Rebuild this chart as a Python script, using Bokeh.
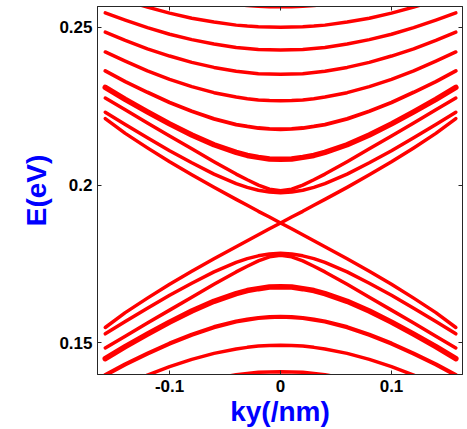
from bokeh.plotting import figure
from bokeh.models import Range1d, LinearAxis, FixedTicker
from bokeh.embed import file_html
from bokeh.resources import INLINE

# ---- data ----
ky = [-0.158, -0.14, -0.12, -0.10, -0.08, -0.06, -0.04, -0.03, -0.02, -0.01, 0.0,
      0.01, 0.02, 0.03, 0.04, 0.06, 0.08, 0.10, 0.12, 0.14, 0.158]

dirac_a = [0.2211, 0.2164, 0.2118, 0.2074, 0.2033, 0.1993, 0.1955, 0.1936, 0.1917, 0.1899, 0.1880,
           0.1862, 0.1843, 0.1824, 0.1805, 0.1767, 0.1727, 0.1686, 0.1642, 0.1596, 0.1549]
dirac_b = [0.1549, 0.1596, 0.1642, 0.1686, 0.1727, 0.1767, 0.1805, 0.1824, 0.1843, 0.1862, 0.1880,
           0.1899, 0.1917, 0.1936, 0.1955, 0.1993, 0.2033, 0.2074, 0.2118, 0.2164, 0.2211]

c1a = [0.2276, 0.2239, 0.2197, 0.2156, 0.2115, 0.2074, 0.2035, 0.2017, 0.2000, 0.1987, 0.1982,
       0.1987, 0.2000, 0.2017, 0.2035, 0.2074, 0.2115, 0.2156, 0.2197, 0.2239, 0.2276]
c1b = [0.2231, 0.2192, 0.2150, 0.2109, 0.2071, 0.2035, 0.2005, 0.1993, 0.1984, 0.1978, 0.1976,
       0.1978, 0.1984, 0.1993, 0.2005, 0.2035, 0.2071, 0.2109, 0.2150, 0.2192, 0.2231]
c2 = [0.2310, 0.2272, 0.2232, 0.2194, 0.2159, 0.2128, 0.2104, 0.2094, 0.2088, 0.2083, 0.2082,
      0.2083, 0.2088, 0.2094, 0.2104, 0.2128, 0.2159, 0.2194, 0.2232, 0.2272, 0.2310]
c3 = [0.2362, 0.2328, 0.2294, 0.2262, 0.2234, 0.2210, 0.2192, 0.2186, 0.2181, 0.2178, 0.2177,
      0.2178, 0.2181, 0.2186, 0.2192, 0.2210, 0.2234, 0.2262, 0.2294, 0.2328, 0.2362]
c4 = [0.2422, 0.2393, 0.2362, 0.2335, 0.2312, 0.2293, 0.2279, 0.2274, 0.2270, 0.2268, 0.2267,
      0.2268, 0.2270, 0.2274, 0.2279, 0.2293, 0.2312, 0.2335, 0.2362, 0.2393, 0.2422]
c5 = [0.2485, 0.2459, 0.2432, 0.2409, 0.2389, 0.2373, 0.2361, 0.2357, 0.2353, 0.2352, 0.2351,
      0.2352, 0.2353, 0.2357, 0.2361, 0.2373, 0.2389, 0.2409, 0.2432, 0.2459, 0.2485]
c6 = [0.2546, 0.2523, 0.2499, 0.2478, 0.2461, 0.2447, 0.2436, 0.2433, 0.2430, 0.2429, 0.2428,
      0.2429, 0.2430, 0.2433, 0.2436, 0.2447, 0.2461, 0.2478, 0.2499, 0.2523, 0.2546]
c7 = [0.2607, 0.2585, 0.2564, 0.2545, 0.2529, 0.2517, 0.2507, 0.2504, 0.2502, 0.2501, 0.2500,
      0.2501, 0.2502, 0.2504, 0.2507, 0.2517, 0.2529, 0.2545, 0.2564, 0.2585, 0.2607]
c8 = [0.2663, 0.2643, 0.2623, 0.2606, 0.2591, 0.2580, 0.2572, 0.2569, 0.2567, 0.2565, 0.2565,
      0.2565, 0.2567, 0.2569, 0.2572, 0.2580, 0.2591, 0.2606, 0.2623, 0.2643, 0.2663]

v1a = [0.1484, 0.1521, 0.1563, 0.1604, 0.1645, 0.1686, 0.1725, 0.1743, 0.1760, 0.1773, 0.1778,
       0.1773, 0.1760, 0.1743, 0.1725, 0.1686, 0.1645, 0.1604, 0.1563, 0.1521, 0.1484]
v1b = [0.1529, 0.1568, 0.1610, 0.1651, 0.1689, 0.1725, 0.1755, 0.1767, 0.1776, 0.1782, 0.1784,
       0.1782, 0.1776, 0.1767, 0.1755, 0.1725, 0.1689, 0.1651, 0.1610, 0.1568, 0.1529]
v2 = [0.1450, 0.1488, 0.1528, 0.1566, 0.1601, 0.1632, 0.1656, 0.1666, 0.1672, 0.1677, 0.1678,
      0.1677, 0.1672, 0.1666, 0.1656, 0.1632, 0.1601, 0.1566, 0.1528, 0.1488, 0.1450]
v3 = [0.1398, 0.1432, 0.1466, 0.1498, 0.1526, 0.1550, 0.1568, 0.1574, 0.1579, 0.1582, 0.1583,
      0.1582, 0.1579, 0.1574, 0.1568, 0.1550, 0.1526, 0.1498, 0.1466, 0.1432, 0.1398]
v4 = [0.1338, 0.1367, 0.1398, 0.1425, 0.1448, 0.1467, 0.1481, 0.1486, 0.1490, 0.1492, 0.1493,
      0.1492, 0.1490, 0.1486, 0.1481, 0.1467, 0.1448, 0.1425, 0.1398, 0.1367, 0.1338]
v5 = [0.1275, 0.1301, 0.1328, 0.1351, 0.1371, 0.1387, 0.1399, 0.1403, 0.1407, 0.1408, 0.1409,
      0.1408, 0.1407, 0.1403, 0.1399, 0.1387, 0.1371, 0.1351, 0.1328, 0.1301, 0.1275]

x_ticks = [-0.1, 0.0, 0.1]
x_tick_labels = ["-0.1", "0", "0.1"]
y_ticks = [0.15, 0.2, 0.25]
y_tick_labels = ["0.15", "0.2", "0.25"]
x_title = "ky(/nm)"
y_title = "E(eV)"

# ---- figure ----
FRAME = "#262626"
FONT = "Liberation Sans"

p = figure(width=466, height=429,
           x_range=Range1d(-0.165, 0.164), y_range=Range1d(0.140, 0.2566),
           output_backend="svg", toolbar_location=None,
           min_border_left=97, min_border_right=4, min_border_top=6, min_border_bottom=0)
p.background_fill_color = "white"
p.border_fill_color = "white"
p.outline_line_color = FRAME
p.grid.visible = False

bands = [dirac_a, dirac_b, c1a, c1b, c2, c3, c4, c5, c6, c7, c8,
         v1a, v1b, v2, v3, v4, v5]
widths = [3.5, 3.5, 3.5, 3.5, 5.5, 3.8, 3.5, 3.5, 3.5, 3.5, 3.5,
          3.5, 3.5, 5.5, 4.2, 3.5, 3.5]
for band, w in zip(bands, widths):
    p.line(ky, band, line_color="#ff0000", line_width=w, line_cap="round", line_join="round")

xa = p.xaxis[0]
ya = p.yaxis[0]
xa.ticker = FixedTicker(ticks=x_ticks)
xa.major_label_overrides = dict(zip(x_ticks, x_tick_labels))
ya.ticker = FixedTicker(ticks=y_ticks)
ya.major_label_overrides = dict(zip(y_ticks, y_tick_labels))
xa.axis_label = x_title
ya.axis_label = y_title

for ax in (xa, ya):
    ax.major_tick_in = 4
    ax.major_tick_out = 0
    ax.minor_tick_line_color = None
    ax.axis_line_color = FRAME
    ax.major_tick_line_color = FRAME
    ax.major_label_text_font = FONT
    ax.major_label_text_font_style = "bold"
    ax.major_label_text_font_size = "17px"
    ax.major_label_text_color = "black"
    ax.major_label_standoff = 5
    ax.axis_label_text_font = FONT
    ax.axis_label_text_font_style = "bold"
    ax.axis_label_text_font_size = "28px"
    ax.axis_label_text_color = "#0000ff"
    ax.axis_label_standoff = 4
xa.axis_label_standoff = 1

top = LinearAxis(ticker=FixedTicker(ticks=x_ticks))
right = LinearAxis(ticker=FixedTicker(ticks=y_ticks))
for ax in (top, right):
    ax.major_tick_in = 4
    ax.major_tick_out = 0
    ax.minor_tick_line_color = None
    ax.axis_line_color = FRAME
    ax.major_tick_line_color = FRAME
    ax.major_label_text_font_size = "0px"
    ax.major_label_standoff = 0
top.major_label_overrides = {t: "" for t in x_ticks}
right.major_label_overrides = {t: "" for t in y_ticks}
p.add_layout(top, "above")
p.add_layout(right, "right")

open("out.html", "w").write(file_html(p, INLINE))
